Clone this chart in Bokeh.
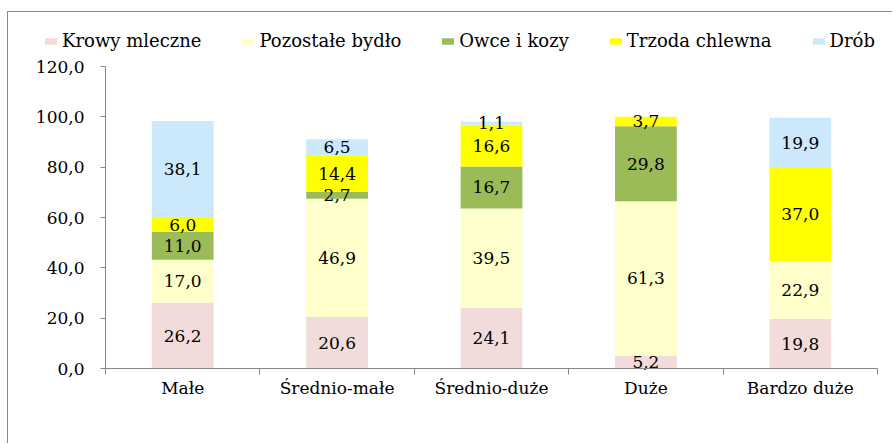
from bokeh.plotting import figure
from bokeh.models import (ColumnDataSource, Range1d, FixedTicker, Legend, LegendItem)
from bokeh.core.properties import value
from bokeh.embed import file_html
from bokeh.resources import INLINE

# ---- data ----
categories = ["Małe", "Średnio-małe", "Średnio-duże", "Duże", "Bardzo duże"]
series = ["Krowy mleczne", "Pozostałe bydło", "Owce i kozy", "Trzoda chlewna", "Drób"]
krowy = [26.2, 20.6, 24.1, 5.2, 19.8]
pozostale = [17.0, 46.9, 39.5, 61.3, 22.9]
owce = [11.0, 2.7, 16.7, 29.8, 0.0]
trzoda = [6.0, 14.4, 16.6, 3.7, 37.0]
drob = [38.1, 6.5, 1.1, 0.0, 19.9]
y_ticks = [0, 20, 40, 60, 80, 100, 120]
y_tick_labels = ["0,0", "20,0", "40,0", "60,0", "80,0", "100,0", "120,0"]

colors = ["#F2DCDB", "#FFFFCC", "#9BBB59", "#FFFF00", "#CCE9FB"]
FONT = "DejaVu Serif"
AXIS_COLOR = "#868686"

values = [krowy, pozostale, owce, trzoda, drob]
keys = ["s0", "s1", "s2", "s3", "s4"]
n = len(categories)
xpos = [i + 0.5 for i in range(n)]

data = {"x": xpos}
for k, v in zip(keys, values):
    data[k] = v
src = ColumnDataSource(data)

# label positions (segment centres)
lx, ly, lt = [], [], []
for ci, x in enumerate(xpos):
    base = 0.0
    for v in values:
        val = v[ci]
        if val > 0:
            lx.append(x)
            ly.append(base + val / 2.0)
            lt.append(f"{val:.1f}".replace(".", ","))
        base += val
lsrc = ColumnDataSource(dict(x=lx, y=ly, t=lt))

# ---- layout (pixels) ----
W, H = 885, 432
PX_LEFT, PX_RIGHT, PX_TOP, PX_BOTTOM = 97, 16, 54, 76   # margins around the plotting area
PLOT_W = W - PX_LEFT - PX_RIGHT
PLOT_H = H - PX_BOTTOM - PX_TOP
Y_MAX = 120.0
x_start = -PX_LEFT * n / PLOT_W
x_end = n + PX_RIGHT * n / PLOT_W
y_start = -PX_BOTTOM * Y_MAX / PLOT_H
y_end = Y_MAX + PX_TOP * Y_MAX / PLOT_H

p = figure(width=W, height=H, output_backend="svg", toolbar_location=None,
           x_range=Range1d(x_start, x_end), y_range=Range1d(y_start, y_end),
           min_border_left=0, min_border_right=0, min_border_top=0,
           min_border_bottom=0)
p.styles = {"border-left": "1px solid #898989", "border-top": "1px solid #898989",
            "margin-left": "7px", "margin-top": "11px"}
p.outline_line_color = None
p.xgrid.visible = False
p.ygrid.visible = False

renderers = p.vbar_stack(keys, x="x", width=0.4, source=src, color=colors,
                         line_color=None)

p.text(x="x", y="y", text="t", source=lsrc, text_align="center",
       text_baseline="middle", text_font=value(FONT), text_font_size="17px",
       text_color="black")

# y axis (placed at x = 0)
yax = p.yaxis[0]
yax.fixed_location = 0
yax.bounds = (0, Y_MAX)
yax.ticker = FixedTicker(ticks=y_ticks)
yax.major_label_overrides = {t: l for t, l in zip(y_ticks, y_tick_labels)}
yax.axis_line_color = AXIS_COLOR
yax.major_tick_line_color = AXIS_COLOR
yax.major_tick_out = 5
yax.major_tick_in = 0
yax.minor_tick_line_color = None
yax.major_label_text_font = FONT
yax.major_label_text_font_size = "17px"
yax.major_label_text_color = "black"
yax.major_label_standoff = 16

# x axis (placed at y = 0)
xax = p.xaxis[0]
xax.fixed_location = 0
xax.bounds = (0, n)
xax.ticker = FixedTicker(ticks=xpos, minor_ticks=list(range(n + 1)))
xax.major_label_overrides = {x: c for x, c in zip(xpos, categories)}
xax.axis_line_color = AXIS_COLOR
xax.major_tick_line_color = None
xax.major_tick_out = 0
xax.major_tick_in = 0
xax.minor_tick_line_color = AXIS_COLOR
xax.minor_tick_out = 6
xax.minor_tick_in = 0
xax.major_label_text_font = FONT
xax.major_label_text_font_size = "17px"
xax.major_label_text_color = "black"
xax.major_label_standoff = 3

# legend row (inside the frame, above the bars)
legend = Legend(items=[LegendItem(label=nm, renderers=[r])
                       for nm, r in zip(series, renderers)],
                location=(35, 393), orientation="horizontal",
                padding=0, margin=0, spacing=39,
                border_line_color=None, background_fill_alpha=0,
                glyph_width=15, glyph_height=8, label_standoff=4,
                label_text_font=FONT, label_text_font_size="18px",
                label_text_color="black")
p.add_layout(legend, "center")

open("out.html", "w").write(file_html(p, INLINE))
